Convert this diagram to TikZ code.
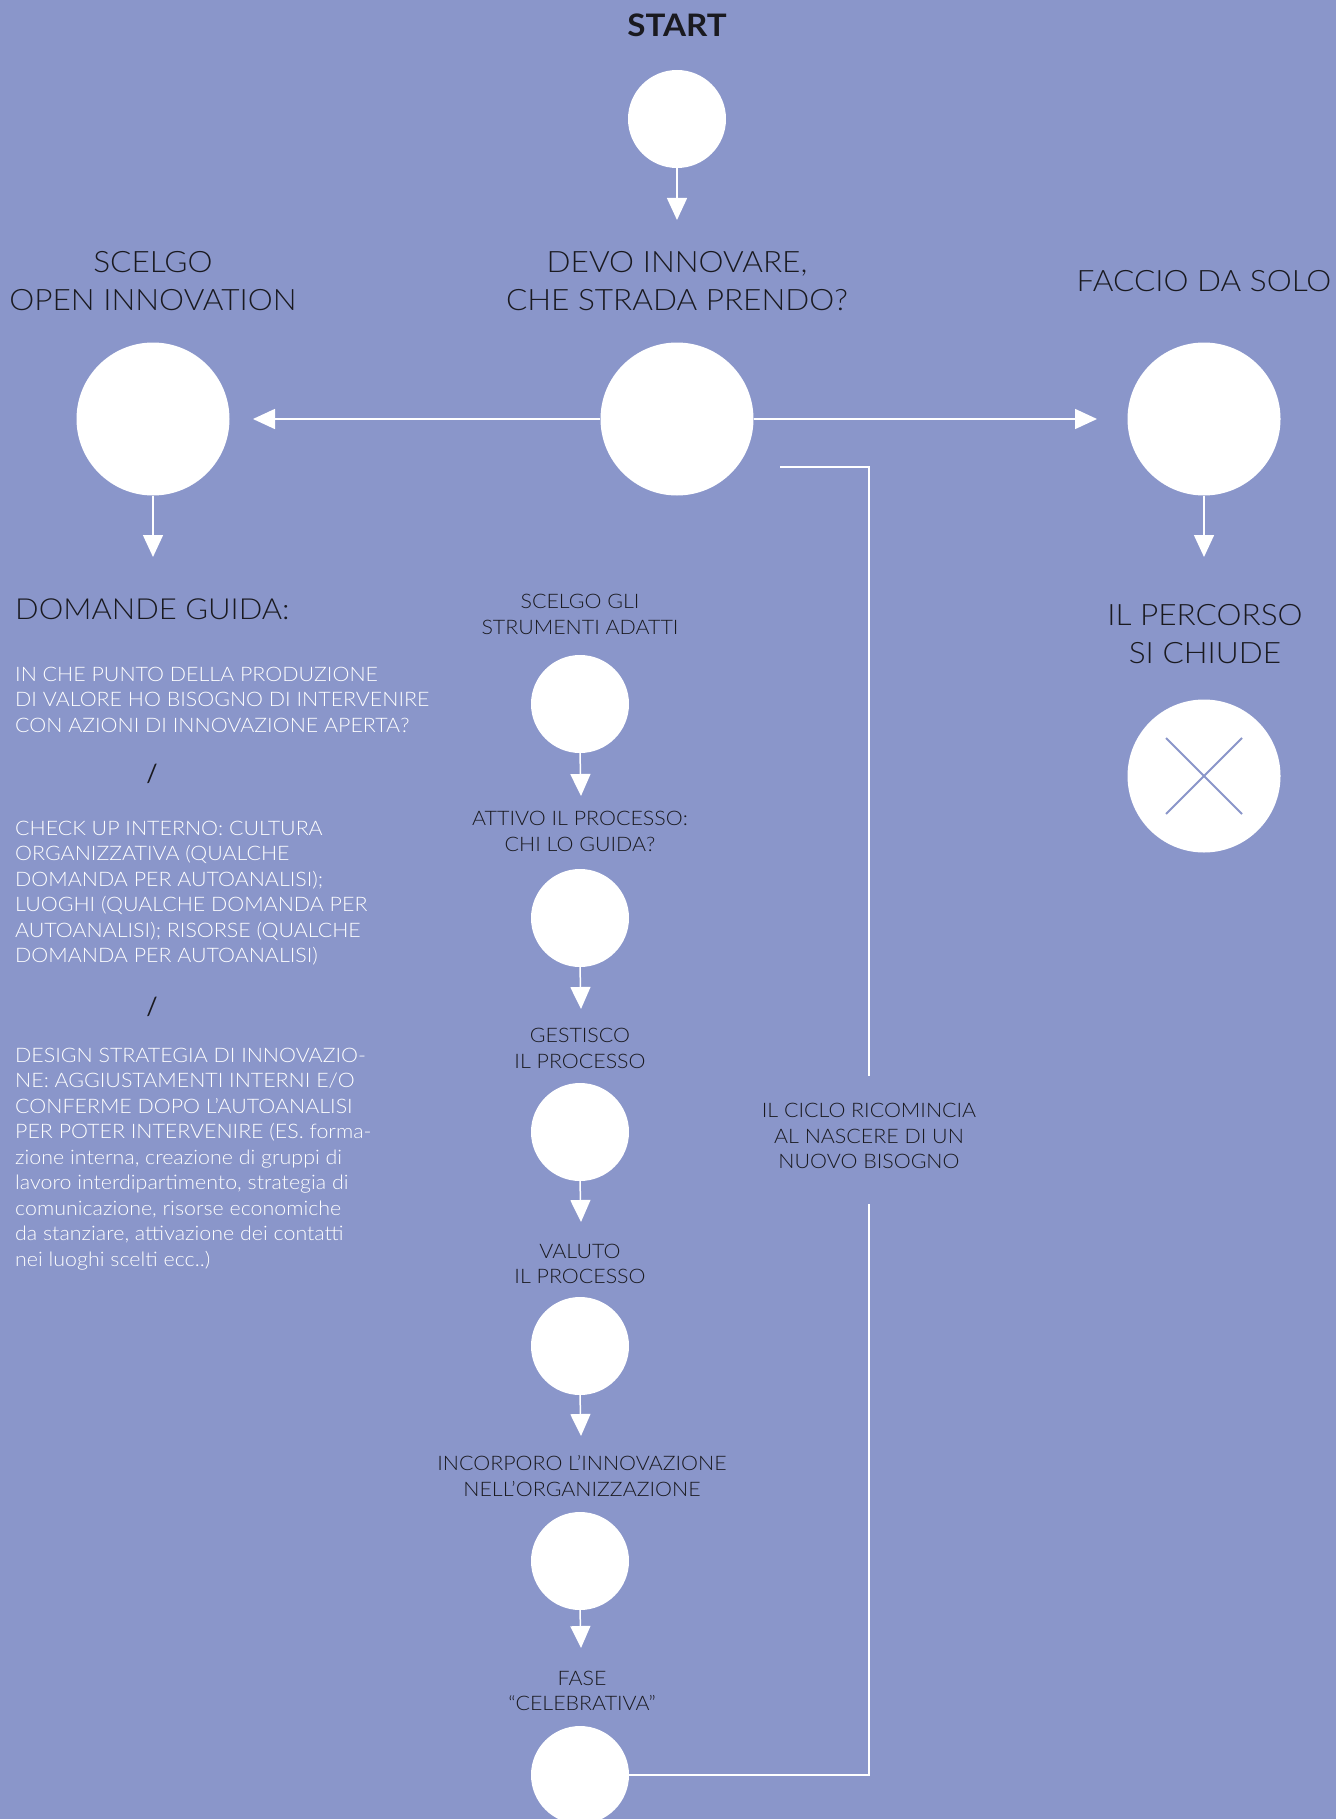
\documentclass[tikz,border=0pt]{standalone}
\usepackage{fontspec}
\setmainfont{Lato Light}[BoldFont=Lato Bold, FakeStretch=1.07]
\newfontfamily\slashfont{Lato}
\usetikzlibrary{arrows.meta,calc}
\definecolor{bg}{RGB}{138,150,202}
\definecolor{ink}{RGB}{26,26,32}
\begin{document}
\begin{tikzpicture}[x=1pt,y=-1pt,
  bigdot/.style={circle,fill=white,inner sep=0pt,minimum size=153pt},
  smalldot/.style={circle,fill=white,inner sep=0pt,minimum size=98pt},
  bigtxt/.style={text=ink,font=\fontsize{29.5}{38}\selectfont,align=center,inner sep=0pt},
  midtxt/.style={text=ink,font=\fontsize{20}{25.5}\selectfont,align=center,inner sep=0pt},
  paratxt/.style={text=white,font=\fontsize{20}{25.5}\selectfont,align=left,anchor=north west,inner sep=0pt},
  sep/.style={text=ink,font=\slashfont\fontsize{25}{28}\selectfont,inner sep=0pt},
  arr/.style={white,line width=1.5pt,-{Triangle[length=22pt,width=20pt]}},
  link/.style={white,line width=1.3pt}
]
\fill[bg] (0,0) rectangle (1336,1819);
\useasboundingbox (0,0) rectangle (1336,1819);

% top
\node[text=ink,font=\fontsize{31}{36}\selectfont\bfseries,inner sep=0pt] (start) at (677,25.5) {START};
\node[smalldot] (c0) at (677,119) {};
\coordinate (t0) at (677,220);
\draw[arr] (c0.south) -- (t0);

\node[bigtxt] (qmid) at (677,281) {DEVO INNOVARE,\\CHE STRADA PRENDO?};
\node[bigtxt] (qleft) at (153,281) {SCELGO\\OPEN INNOVATION};
\node[bigtxt] (qright) at (1204,281) {FACCIO DA SOLO};

\node[bigdot] (mid) at (677,419) {};
\node[bigdot] (left) at (153,419) {};
\node[bigdot] (right) at (1204,419) {};
\coordinate (tl) at (253,419);
\coordinate (tr) at (1097,419);
\draw[arr] (mid.west) -- (tl);
\draw[arr] (mid.east) -- (tr);
\coordinate (tld) at (153,557);
\coordinate (trd) at (1204,557);
\draw[arr] (left.south) -- (tld);
\draw[arr] (right.south) -- (trd);

% right branch
\node[bigtxt] (chiude) at (1205,634.5) {IL PERCORSO\\SI CHIUDE};
\node[bigdot] (xdot) at (1204,776) {};
\draw[bg,line width=2pt] ($(xdot)+(-38,-38)$) -- ($(xdot)+(38,38)$);
\draw[bg,line width=2pt] ($(xdot)+(-38,38)$) -- ($(xdot)+(38,-38)$);

% left column
\node[text=ink,font=\fontsize{29}{38}\selectfont,anchor=west,inner sep=0pt] (domande) at (15,609) {DOMANDE GUIDA:};
\node[paratxt] (p1) at (15,666.5) {IN CHE PUNTO DELLA PRODUZIONE\\DI VALORE HO BISOGNO DI INTERVENIRE\\CON AZIONI DI INNOVAZIONE APERTA?};
\node[sep] (s1) at (152,774) {/};
\node[paratxt] (p2) at (15,820.5) {CHECK UP INTERNO: CULTURA\\ORGANIZZATIVA (QUALCHE\\DOMANDA PER AUTOANALISI);\\LUOGHI (QUALCHE DOMANDA PER\\AUTOANALISI); RISORSE (QUALCHE\\DOMANDA PER AUTOANALISI)};
\node[sep] (s2) at (152,1007) {/};
\node[paratxt] (p3) at (15,1047.5) {DESIGN STRATEGIA DI INNOVAZIO-\\NE: AGGIUSTAMENTI INTERNI E/O\\CONFERME DOPO L’AUTOANALISI\\PER POTER INTERVENIRE (ES. forma-\\zione interna, creazione di gruppi di\\lavoro interdipartimento, strategia di\\comunicazione, risorse economiche\\da stanziare, attivazione dei contatti\\nei luoghi scelti ecc..)};

% middle column
\node[midtxt] (l1) at (580,614.5) {SCELGO GLI\\STRUMENTI ADATTI};
\node[smalldot] (c1) at (580,704) {};
\coordinate (a1) at (581,796);
\draw[arr] (c1.south) -- (a1);
\node[midtxt] (l2) at (580,831.5) {ATTIVO IL PROCESSO:\\CHI LO GUIDA?};
\node[smalldot] (c2) at (580,918) {};
\coordinate (a2) at (581,1009);
\draw[arr] (c2.south) -- (a2);
\node[midtxt] (l3) at (580,1048.5) {GESTISCO\\IL PROCESSO};
\node[smalldot] (c3) at (580,1132) {};
\coordinate (a3) at (581,1222);
\draw[arr] (c3.south) -- (a3);
\node[midtxt] (l4) at (580,1264) {VALUTO\\IL PROCESSO};
\node[smalldot] (c4) at (580,1346) {};
\coordinate (a4) at (581,1436);
\draw[arr] (c4.south) -- (a4);
\node[midtxt] (l5) at (582,1476) {INCORPORO L’INNOVAZIONE\\NELL’ORGANIZZAZIONE};
\node[smalldot] (c5) at (580,1561) {};
\coordinate (a5) at (581,1648);
\draw[arr] (c5.south) -- (a5);
\node[midtxt] (l6) at (582,1691) {FASE\\“CELEBRATIVA”};
\node[smalldot] (c6) at (580,1775) {};

% loop back
\node[midtxt] (ciclo) at (869,1136) {IL CICLO RICOMINCIA\\AL NASCERE DI UN\\NUOVO BISOGNO};
\coordinate (lb1) at (869,1775);
\coordinate (lb2) at (869,1204);
\coordinate (lt1) at (869,1076);
\coordinate (lt2) at (869,467);
\coordinate (lt3) at (780,467);
\draw[link] (c6.east) -- (lb1) -- (lb2);
\draw[link] (lt1) -- (lt2) -- (lt3);
\end{tikzpicture}
\end{document}
